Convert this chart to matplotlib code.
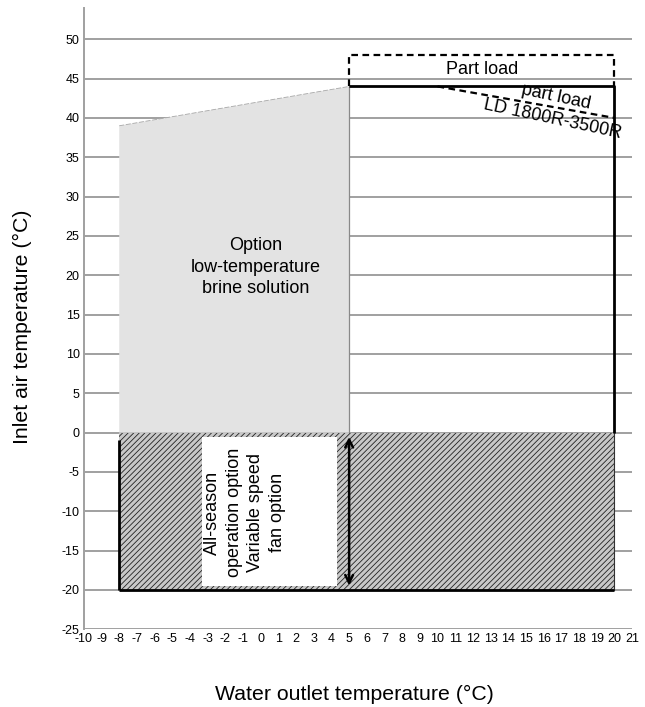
import matplotlib
matplotlib.use("Agg")
import matplotlib.pyplot as plt
from matplotlib.patches import Polygon, Rectangle
from matplotlib import font_manager

plt.rcParams["font.family"] = ["Liberation Sans", "DejaVu Sans"]
plt.rcParams["hatch.linewidth"] = 0.6

names = {f.name for f in font_manager.fontManager.ttflist}
tick_family = "Liberation Sans Narrow" if "Liberation Sans Narrow" in names else "Liberation Sans"

# axis ranges / ticks
x_ticks = list(range(-10, 22))
y_ticks = list(range(-25, 55, 5))
y_ticklabels = [str(v) for v in y_ticks]

# envelope boundaries (water outlet °C, inlet air °C)
brine_x = [-8, 5, 5, -8]
brine_y = [39, 44, 0, 0]
allseason_x = [-8, 20]
allseason_y = [-20, 0]
textbox_x = [-3.3, 4.3]
textbox_y = [-19.5, -0.5]
std_x = [5, 20, 20]
std_y = [44, 44, 0]
bottom_x = [-8, 20]
bottom_y = [-20, -20]
left_x = [-8, -8]
left_y = [-20, -1]
partload_x = [5, 5, 20, 20]
partload_y = [44, 48, 48, 44]
ld_x = [10, 20]
ld_y = [44, 40]
arrow_x = 5
arrow_y = [0, -20]

fig = plt.figure(figsize=(6.45, 7.07), dpi=100)
ax = fig.add_axes([0.130, 0.110, 0.850, 0.879])
ax.set_xlim(-10, 21)
ax.set_ylim(-25, 54)

# grid
for v in y_ticks:
    ax.plot([-10, 21], [v, v], color="#a0a0a0", lw=1.4, zorder=1)

# brine option area
ax.add_patch(Polygon(list(zip(brine_x, brine_y)), closed=True, facecolor="#e3e3e3",
                     edgecolor="none", zorder=2))
ax.plot(brine_x[:2], brine_y[:2], color="#a8a8a8", lw=0.6, ls=(0, (6, 2)), zorder=3)
ax.plot([5, 5], [44, 0], color="#8a8a8a", lw=0.9, zorder=3)

# all-season hatched area
ax.add_patch(Rectangle((allseason_x[0], allseason_y[0]), allseason_x[1] - allseason_x[0],
                       allseason_y[1] - allseason_y[0], facecolor="#c8c8c8", edgecolor="#222222",
                       hatch="//////", lw=0, zorder=3))
ax.add_patch(Rectangle((textbox_x[0], textbox_y[0]), textbox_x[1] - textbox_x[0],
                       textbox_y[1] - textbox_y[0], facecolor="white", edgecolor="none", zorder=4))
ax.plot([20, 20], [-20, 0], color="#333333", lw=0.8, zorder=4)

# standard envelope (solid black)
ax.plot(std_x, std_y, color="black", lw=2.0, zorder=5, solid_capstyle="butt")
ax.plot(bottom_x, bottom_y, color="black", lw=2.0, zorder=5, solid_capstyle="butt")
ax.plot(left_x, left_y, color="black", lw=2.0, zorder=5, solid_capstyle="butt")

# part load (dashed)
ax.plot(partload_x, partload_y, color="black", lw=1.6, ls=(0, (3, 2)), zorder=5)
ax.plot(ld_x, ld_y, color="black", lw=1.6, ls=(0, (3, 2)), zorder=5)

# double arrow
ax.annotate("", xy=(arrow_x, arrow_y[0] - 0.2), xytext=(arrow_x, arrow_y[1] + 0.2),
            arrowprops=dict(arrowstyle="<->", color="black", lw=1.8, mutation_scale=14), zorder=6)

# texts
ax.text(12.5, 46.1, "Part load", ha="center", va="center", fontsize=13, zorder=7)
ax.text(16.7, 42.6, "part load", ha="center", va="center", fontsize=13, rotation=-12, zorder=7)
ax.text(16.5, 39.9, "LD 1800R-3500R", ha="center", va="center", fontsize=13, rotation=-12, zorder=7)
ax.text(-0.3, 21.0, "Option\nlow-temperature\nbrine solution", ha="center", va="center",
        fontsize=13, linespacing=1.35, zorder=7)
ax.text(-0.9, -10.2, "All-season\noperation option\nVariable speed\nfan option", ha="center",
        va="center", fontsize=13, rotation=90, linespacing=1.35, zorder=7)

# axes styling
for s in ["top", "right"]:
    ax.spines[s].set_visible(False)
ax.spines["left"].set_color("#a0a0a0")
ax.spines["left"].set_linewidth(1.4)
ax.spines["bottom"].set_visible(False)
ax.set_xticks(x_ticks)
ax.set_xticklabels([str(v) for v in x_ticks], fontsize=9, family=tick_family)
ax.set_yticks(y_ticks)
ax.set_yticklabels(y_ticklabels, fontsize=9, family=tick_family)
ax.tick_params(length=0, pad=3)
ax.set_xlabel("Water outlet temperature (°C)", fontsize=15.3)
ax.set_ylabel("Inlet air temperature (°C)", fontsize=15.3)
ax.xaxis.set_label_coords(0.493, -0.090)
ax.yaxis.set_label_coords(-0.095, 0.486)

fig.savefig("out.png", dpi=100)
